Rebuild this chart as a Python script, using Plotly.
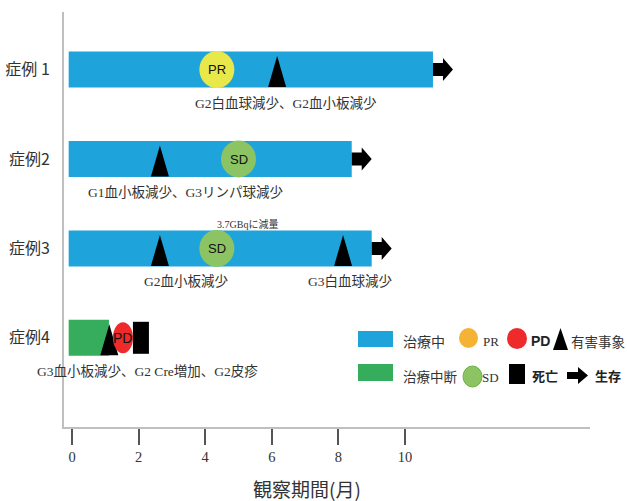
import plotly.graph_objects as go

# ---------------- data ----------------
cases = ["症例 1", "症例2", "症例3", "症例4"]
bar_start = [-0.1, -0.1, -0.1, -0.1]
bar_end = [10.84, 8.4, 9.0, 1.11]
bar_status = ["治療中", "治療中", "治療中", "治療中断"]

resp_case = [0, 1, 2, 3]
resp_month = [4.35, 5.0, 4.35, 1.53]
resp_type = ["PR", "SD", "SD", "PD"]

ae_case = [0, 1, 2, 2, 3]
ae_month = [6.16, 2.64, 2.64, 8.14, 1.12]

death_case = [3]
death_month = [2.07]

alive_case = [0, 1, 2]

note_case = [0, 1, 2, 2, 3]
note_text = ["G2白血球減少、G2血小板減少", "G1血小板減少、G3リンパ球減少",
             "G2血小板減少", "G3白血球減少", "G3血小板減少、G2 Cre増加、G2皮疹"]
dose_case = 2
dose_text = "3.7GBqに減量"

x_ticks = [0, 2, 4, 6, 8, 10]
x_title = "観察期間(月)"

legend_row1 = ["治療中", "PR", "PD", "有害事象"]
legend_row2 = ["治療中断", "SD", "死亡", "生存"]

# ---------------- layout/style ----------------
W, H = 627, 501
L, R, T, B = 64, 37, 12, 74
PXM = 33.3          # pixels per month
PXU = 89.4          # pixels per row unit
x0 = -(72 - L) / PXM
x1 = x0 + (W - L - R) / PXM
ytop = -(69.6 - T) / PXU
ybot = ytop + (H - T - B) / PXU

note_x = [6.42, 3.42, 3.42, 8.35, 2.28]
dose_x = 5.26

BLUE = "#1EA4DB"
GREEN = "#36AD5C"
RESP_COL = {"PR": "#E9E84B", "SD": "#8CC463", "PD": "#EE2A2A"}
RESP_SIZE = {"PR": (35, 37), "SD": (35, 37), "PD": (20, 31)}  # px w,h
STATUS_COL = {"治療中": BLUE, "治療中断": GREEN}

CJK = "Noto Sans CJK JP"
MIX = "Liberation Serif, Noto Sans CJK JP"
TXT = "#333333"

fig = go.Figure()
shapes = []
annos = []

# bars
for i, (s, e, st) in enumerate(zip(bar_start, bar_end, bar_status)):
    fig.add_trace(go.Bar(orientation="h", y=[i], x=[e - s], base=[s], width=36 / PXU,
                         marker=dict(color=STATUS_COL[st], line=dict(width=0)),
                         showlegend=False, hoverinfo="skip"))

# adverse events (triangles)
tw = 9 / PXM
for c, m in zip(ae_case, ae_month):
    yb = c + 17.5 / PXU
    yt = yb - 31 / PXU
    fig.add_trace(go.Scatter(x=[m - tw, m, m + tw, m - tw], y=[yb, yt, yb, yb],
                             mode="lines", fill="toself", fillcolor="black",
                             line=dict(width=0, color="black"),
                             showlegend=False, hoverinfo="skip"))

# survival arrows
for c in alive_case:
    e = bar_end[c]
    sh = 6.5 / PXU
    hh = 11.5 / PXU
    sl = 10 / PXM
    hl = 10 / PXM
    xs = [e, e + sl, e + sl, e + sl + hl, e + sl, e + sl, e, e]
    ys = [c - sh, c - sh, c - hh, c, c + hh, c + sh, c + sh, c - sh]
    fig.add_trace(go.Scatter(x=xs, y=ys, mode="lines", fill="toself", fillcolor="black",
                             line=dict(width=0, color="black"),
                             showlegend=False, hoverinfo="skip"))

# responses (ellipses)
for c, m, t in zip(resp_case, resp_month, resp_type):
    w, h = RESP_SIZE[t]
    shapes.append(dict(type="circle", xref="x", yref="y",
                       x0=m - w / 2 / PXM, x1=m + w / 2 / PXM,
                       y0=c - h / 2 / PXU, y1=c + h / 2 / PXU,
                       fillcolor=RESP_COL[t], line=dict(width=0), layer="above"))
    annos.append(dict(x=m, y=c, xref="x", yref="y", text=t, showarrow=False,
                      xanchor="center", yanchor="middle",
                      font=dict(family="Liberation Sans Narrow, Liberation Sans",
                                size=14 if t == "PD" else 13, color="#111111")))

# deaths
for c, m in zip(death_case, death_month):
    dw = 8 / PXM
    dh = 16 / PXU
    shapes.append(dict(type="rect", xref="x", yref="y", x0=m - dw, x1=m + dw,
                       y0=c - dh, y1=c + dh, fillcolor="black", line=dict(width=0),
                       layer="above"))

# notes
for c, x, t in zip(note_case, note_x, note_text):
    annos.append(dict(x=x, y=c, xref="x", yref="y", yshift=-33, text=t, showarrow=False,
                      xanchor="center", yanchor="middle",
                      font=dict(family=MIX, size=13.5, color=TXT)))
annos.append(dict(x=dose_x, y=dose_case, xref="x", yref="y", yshift=24, text=dose_text,
                  showarrow=False, xanchor="center", yanchor="middle",
                  font=dict(family=MIX, size=10, color=TXT)))


def P(px):
    return (px - L) / (W - L - R)


def Q(py):
    return (H - B - py) / (H - T - B)


annos.append(dict(x=P(307), y=Q(488), xref="paper", yref="paper", text=x_title,
                  showarrow=False, xanchor="center", yanchor="middle",
                  font=dict(family=CJK, size=19, color=TXT)))

# legend
shapes += [
    dict(type="rect", xref="paper", yref="paper", x0=P(358), x1=P(393), y0=Q(347), y1=Q(331),
         fillcolor=BLUE, line=dict(width=0)),
    dict(type="circle", xref="paper", yref="paper", x0=P(459), x1=P(478), y0=Q(348), y1=Q(328),
         fillcolor="#F5B335", line=dict(width=0)),
    dict(type="circle", xref="paper", yref="paper", x0=P(507), x1=P(527), y0=Q(349), y1=Q(328),
         fillcolor="#EE2A2A", line=dict(width=0)),
    dict(type="path", xref="paper", yref="paper",
         path=f"M {P(553)},{Q(350)} L {P(560.5)},{Q(328)} L {P(568)},{Q(350)} Z",
         fillcolor="black", line=dict(width=0)),
    dict(type="rect", xref="paper", yref="paper", x0=P(358), x1=P(393), y0=Q(381), y1=Q(364),
         fillcolor=GREEN, line=dict(width=0)),
    dict(type="circle", xref="paper", yref="paper", x0=P(463), x1=P(482), y0=Q(387), y1=Q(366),
         fillcolor="#8CC463", line=dict(color="#6FAF4A", width=1)),
    dict(type="rect", xref="paper", yref="paper", x0=P(509), x1=P(525), y0=Q(384), y1=Q(364),
         fillcolor="black", line=dict(width=0)),
    dict(type="path", xref="paper", yref="paper",
         path=(f"M {P(567)},{Q(372)} L {P(578)},{Q(372)} L {P(578)},{Q(367)} L {P(588)},{Q(375.5)} "
               f"L {P(578)},{Q(384)} L {P(578)},{Q(379)} L {P(567)},{Q(379)} Z"),
         fillcolor="black", line=dict(width=0)),
]
leg_pos1 = [(424, 341, CJK, 14, False), (491, 341, "Liberation Serif", 13, False),
            (540, 341, "Liberation Sans Narrow, Liberation Sans", 14, True), (598, 341, CJK, 13.5, False)]
leg_pos2 = [(430, 376, CJK, 13.5, False), (490, 377, "Liberation Serif", 13, False),
            (545, 375, CJK, 13, True), (608, 375, CJK, 13, True)]
for txt, (px, py, fam, sz, bold) in list(zip(legend_row1, leg_pos1)) + list(zip(legend_row2, leg_pos2)):
    annos.append(dict(x=P(px), y=Q(py), xref="paper", yref="paper",
                      text=f"<b>{txt}</b>" if bold else txt, showarrow=False,
                      xanchor="center", yanchor="middle",
                      font=dict(family=fam, size=sz, color="#222222" if bold else TXT)))

fig.update_layout(
    width=W, height=H, margin=dict(l=L, r=R, t=T, b=B, autoexpand=False),
    plot_bgcolor="white", paper_bgcolor="white", barmode="overlay",
    showlegend=False, shapes=shapes, annotations=annos,
    xaxis=dict(range=[x0, x1], tickvals=x_ticks, ticktext=[str(v) for v in x_ticks],
               showgrid=False, zeroline=False, showline=True, linecolor="#BFBFBF", linewidth=2,
               ticks="outside", ticklen=16, tickwidth=1.5, tickcolor="#555555", automargin=False,
               tickfont=dict(family="Liberation Serif", size=14.5, color=TXT)),
    yaxis=dict(range=[ybot, ytop], tickvals=list(range(len(cases))), ticktext=cases,
               showgrid=False, zeroline=False, showline=True, linecolor="#BFBFBF", linewidth=2,
               ticks="", ticklabelstandoff=9, automargin=False,
               tickfont=dict(family=CJK, size=16, color=TXT)),
)

fig.write_html("out.html")
